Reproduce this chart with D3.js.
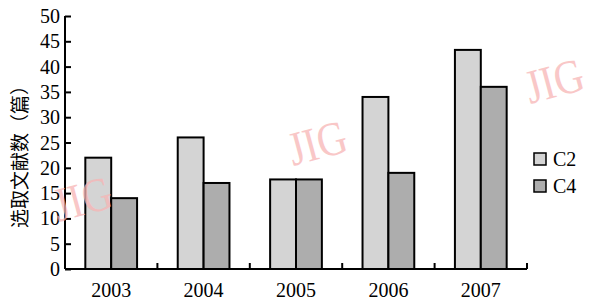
<!DOCTYPE html>
<html>
<head>
<meta charset="utf-8">
<script src="https://cdn.jsdelivr.net/npm/d3@7"></script>
<style>
  body { margin: 0; background: #fff; }
  svg { display: block; }
</style>
</head>
<body>
<svg id="canvas"></svg>
<script>
var years = ["2003", "2004", "2005", "2006", "2007"];
var seriesNames = ["C2", "C4"];
var c2Values = [22, 26, 17.7, 34, 43.3];
var c4Values = [14, 17, 17.7, 19, 36];
var yTicks = [0, 5, 10, 15, 20, 25, 30, 35, 40, 45, 50];
var colors = ["#d4d4d4", "#adadad"];

var width = 589, height = 303;
var margin = {top: 16, right: 62, bottom: 34, left: 65};
var plotW = width - margin.left - margin.right;
var plotH = height - margin.top - margin.bottom;

var svg = d3.select("#canvas").attr("width", width).attr("height", height);
var font = "'Liberation Serif', 'Times New Roman', serif";

var g = svg.append("g").attr("transform", "translate(" + margin.left + "," + margin.top + ")");

var x = d3.scaleBand().domain(years).range([0, plotW]).paddingInner(0.44).paddingOuter(0.22);
var xs = d3.scaleBand().domain(seriesNames).range([0, x.bandwidth()]);
var y = d3.scaleLinear().domain([0, 50]).range([plotH, 0]);

var data = years.map(function(yr, i) {
  return {year: yr, values: [{name: "C2", v: c2Values[i]}, {name: "C4", v: c4Values[i]}]};
});

// bars
var groups = g.selectAll(".grp").data(data).enter().append("g")
  .attr("transform", function(d) { return "translate(" + x(d.year) + ",0)"; });
groups.selectAll("rect").data(function(d) { return d.values; }).enter().append("rect")
  .attr("x", function(d) { return xs(d.name); })
  .attr("y", function(d) { return y(d.v); })
  .attr("width", xs.bandwidth())
  .attr("height", function(d) { return plotH - y(d.v); })
  .style("fill", function(d, i) { return colors[i]; })
  .style("stroke", "#000")
  .style("stroke-width", 2);

// y axis (ticks inward)
var yAxis = d3.axisRight(y).tickValues(yTicks).tickSize(6).tickFormat("");
var ya = g.append("g").call(yAxis);
ya.select(".domain").attr("d", "M0," + plotH + "V0").style("stroke-width", 2);
ya.selectAll(".tick line").style("stroke-width", 2);
g.selectAll(".ylab").data(yTicks).enter().append("text")
  .attr("x", -5).attr("y", function(d) { return y(d); })
  .attr("dy", "0.35em").attr("text-anchor", "end")
  .style("font-family", font).style("font-size", "20px")
  .text(function(d) { return d; });

// x axis, ticks between categories pointing up
var bounds = d3.range(years.length + 1).map(function(i) { return i * plotW / years.length; });
g.append("line").attr("x1", 0).attr("x2", plotW).attr("y1", plotH).attr("y2", plotH)
  .style("stroke", "#000").style("stroke-width", 2);
g.selectAll(".xt").data(bounds.slice(1)).enter().append("line")
  .attr("x1", function(d) { return d; }).attr("x2", function(d) { return d; })
  .attr("y1", plotH).attr("y2", plotH - 6)
  .style("stroke", "#000").style("stroke-width", 2);
g.selectAll(".xlab").data(years).enter().append("text")
  .attr("x", function(d) { return x(d) + x.bandwidth() / 2; })
  .attr("y", plotH + 28)
  .attr("text-anchor", "middle")
  .style("font-family", font).style("font-size", "20px")
  .text(function(d) { return d; });

// y label
svg.append("text")
  .attr("transform", "translate(27,152) rotate(-90)")
  .attr("text-anchor", "middle")
  .style("font-family", "'Noto Sans CJK SC', sans-serif").style("font-size", "19px")
  .text("选取文献数（篇）");

// legend
var legend = svg.selectAll(".legend").data(seriesNames).enter().append("g")
  .attr("transform", function(d, i) { return "translate(534," + (153 + i * 27) + ")"; });
legend.append("rect").attr("width", 12).attr("height", 12)
  .style("fill", function(d, i) { return colors[i]; })
  .style("stroke", "#000").style("stroke-width", 1.5);
legend.append("text").attr("x", 19).attr("y", 6).attr("dy", "0.35em")
  .style("font-family", font).style("font-size", "20px")
  .text(function(d) { return d; });

// watermarks
var marks = [[58, 222], [293, 166], [530, 104]];
svg.selectAll(".wm").data(marks).enter().append("text")
  .attr("transform", function(d) { return "translate(" + d[0] + "," + d[1] + ") rotate(-15) scale(0.85,1)"; })
  .style("font-family", font).style("font-size", "48px")
  .style("fill", "#f7b5b5").style("opacity", 0.75)
  .text("JIG");
</script>
</body>
</html>
